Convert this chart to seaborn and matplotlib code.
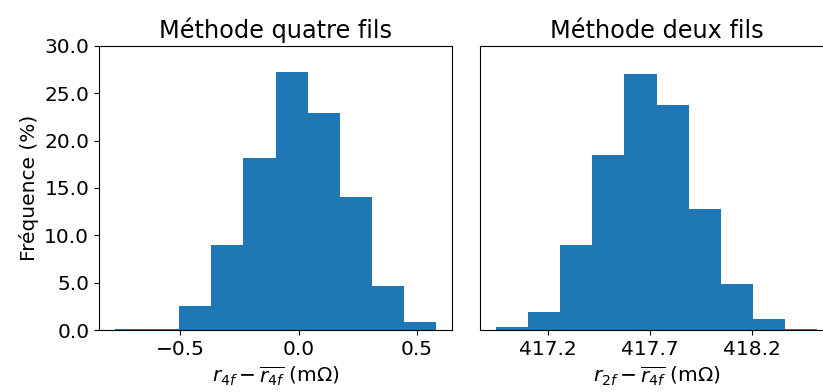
#import libraries
import numpy as np
import pandas as pd
import matplotlib.pyplot as plt
import seaborn as sns
from matplotlib.ticker import FormatStrFormatter

#data (percent of samples per bin, 10 bins each)
four_wire_range = (-0.776, 0.581)
four_wire_freq = [0.1, 0.1, 2.5, 9.0, 18.2, 27.2, 22.9, 14.0, 4.7, 0.8]

two_wire_range = (416.947, 418.52)
two_wire_freq = [0.3, 1.9, 9.0, 18.5, 27.0, 23.8, 12.8, 4.9, 1.2, 0.1]

titles = ["Méthode quatre fils", "Méthode deux fils"]
xlabels = [r"$r_{4f} - \overline{r_{4f}}$ (m$\Omega$)",
           r"$r_{2f} - \overline{r_{4f}}$ (m$\Omega$)"]
four_wire_ticks = [-0.5, 0.0, 0.5]
two_wire_ticks = [417.2, 417.7, 418.2]

plt.rcParams["font.size"] = 14.5

fig = plt.figure(figsize=(8.23, 3.92), dpi=100)
ax1 = fig.add_axes([0.1203, 0.158, 0.429, 0.725])
ax2 = fig.add_axes([0.5832, 0.158, 0.429, 0.725], sharey=ax1)

panels = [(ax1, four_wire_range, four_wire_freq),
          (ax2, two_wire_range, two_wire_freq)]

for i, (ax, rng, freq) in enumerate(panels):
    edges = np.linspace(rng[0], rng[1], len(freq) + 1)
    df = pd.DataFrame({"x": (edges[:-1] + edges[1:]) / 2, "w": freq})
    sns.histplot(data=df, x="x", weights="w", bins=edges.tolist(), ax=ax,
                 color="#1f77b4", alpha=1, linewidth=0)
    ax.set_title(titles[i], fontsize=17.3)
    ax.set_xlabel(xlabels[i])
    ax.margins(x=0.05)

ax1.set_ylim(0, 30)
ax1.yaxis.set_major_formatter(FormatStrFormatter("%.1f"))
ax1.set_ylabel("Fréquence (%)")
ax1.set_xticks(four_wire_ticks)

ax2.set_ylabel("")
ax2.set_xticks(two_wire_ticks)
ax2.tick_params(axis="y", left=False, labelleft=False)

plt.savefig("out.png", dpi=100)
